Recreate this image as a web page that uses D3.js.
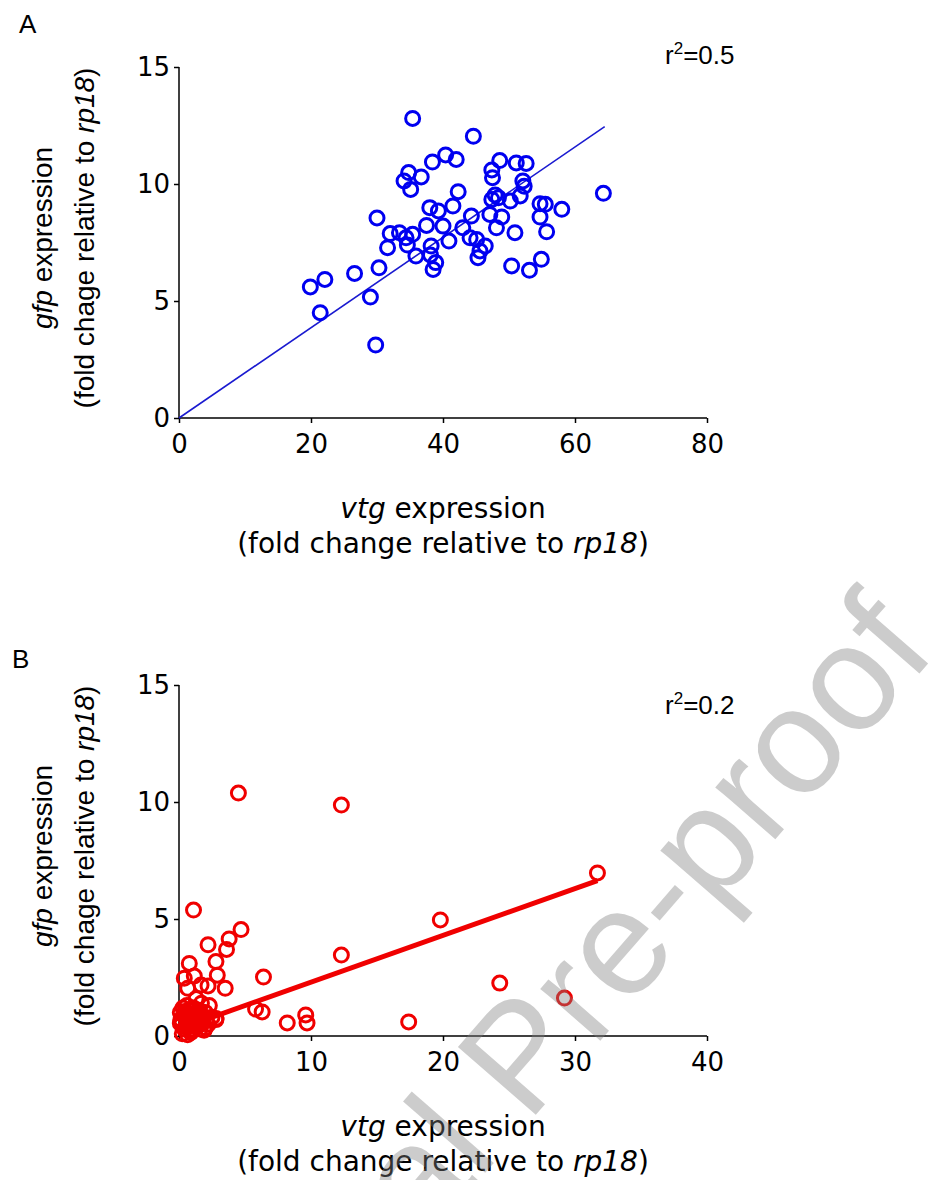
<!DOCTYPE html>
<html><head><meta charset="utf-8">
<script src="https://cdn.jsdelivr.net/npm/d3@7"></script>
<style>body{margin:0;background:#fff}svg{display:block}</style>
</head><body>
<script>
// Panel A data: vtg (x) vs gfp (y)
const vtgA = [35.4,38.4,40.4,42.0,34.8,34.1,36.7,35.1,42.3,38.0,39.3,41.5,30.0,32.0,33.4,34.4,35.4,37.5,40.0,31.6,34.6,38.2,40.9,35.9,38.1,38.9,38.5,30.3,26.6,22.1,19.9,29.0,21.4,29.8,
  44.6,48.6,51.1,52.6,47.4,47.5,52.1,52.3,47.9,48.4,47.4,50.2,51.7,54.7,55.5,58.0,64.3,54.7,47.1,48.9,48.1,44.3,43.0,44.1,45.1,46.4,45.6,45.3,50.9,55.7,54.9,50.4,53.1];
const gfpA = [12.8,10.94,11.24,11.05,10.49,10.13,10.3,9.77,9.67,8.99,8.85,9.06,8.55,7.88,7.92,7.7,7.85,8.23,8.2,7.28,7.39,7.35,7.56,6.92,6.97,6.64,6.35,6.42,6.18,5.92,5.6,5.17,4.5,3.12,
  12.04,11.0,10.9,10.88,10.6,10.27,10.13,9.9,9.53,9.41,9.34,9.27,9.49,9.16,9.13,8.92,9.6,8.59,8.7,8.59,8.13,8.63,8.13,7.7,7.63,7.35,7.14,6.85,7.92,7.96,6.78,6.5,6.31];
const fitA = {slope: 0.193, intercept: 0, xEnd: 64.5};

// Panel B data
const vtgB = [4.5,12.3,1.1,4.7,3.8,2.2,3.6,12.3,19.8,31.7,24.3,29.2,17.4,6.4,5.8,6.3,9.6,9.7,8.2,3.5,2.9,2.8,0.78,0.4,1.16,1.67,2.2,0.66,2.8,
  0.3,0.5,0.6,0.8,1.0,1.1,1.2,1.4,1.5,1.6,1.8,2.0,2.2,0.2,0.4,0.9,1.3,1.0,1.5,2.0,0.6,2.5,2.8,0.1,1.7,0.7,2.3,1.9,0.9,1.2,
  0.15,0.35,0.55,0.75,0.95,1.25,1.45,1.65,1.85,2.05,0.25,0.45,0.85,1.05,1.35,1.55,0.1,0.65,1.15];
const gfpB = [10.38,9.87,5.38,4.55,4.15,3.9,3.7,3.46,4.96,6.97,2.26,1.62,0.6,2.52,1.15,1.03,0.9,0.56,0.56,2.04,2.6,3.18,3.1,2.47,2.56,2.18,2.14,2.04,0.75,
  1.2,0.8,1.3,0.5,0.9,1.2,0.4,0.7,1.1,0.3,0.6,1.0,0.5,0.5,0.3,0.2,1.6,0.6,0.45,0.35,1.0,0.8,0.7,1.0,1.4,0.6,1.3,0.25,0.15,0.9,
  0.7,0.9,0.4,1.1,0.55,0.85,0.45,0.95,0.75,0.65,0.1,1.05,0.95,0.3,1.0,0.55,0.55,0.05,0.7];
const fitB = {slope: 0.2, intercept: 0.3, xEnd: 31.7};

const xTicksA = [0,20,40,60,80];
const xTicksB = [0,10,20,30,40];
const yTicks = [0,5,10,15];

const W = 936, H = 1180;
const svg = d3.select("body").append("svg").attr("width", W).attr("height", H);

function panel(cfg) {
  const x = d3.scaleLinear().domain(cfg.xDomain).range([179, 707]);
  const y = d3.scaleLinear().domain([0, 15]).range([cfg.y0, cfg.y0 - 351]);
  const g = svg.append("g");
  const xa = g.append("g").attr("transform", `translate(0,${cfg.y0})`)
    .call(d3.axisBottom(x).tickValues(cfg.xTicks).tickSize(5).tickPadding(12).tickFormat(d3.format("d")));
  const ya = g.append("g").attr("transform", `translate(179,0)`)
    .call(d3.axisLeft(y).tickValues(yTicks).tickSize(5).tickPadding(4).tickFormat(d3.format("d")));
  [xa, ya].forEach(a => {
    a.select(".domain").attr("stroke", "#000").attr("stroke-width", 1.5);
    a.selectAll(".tick line").attr("stroke", "#000").attr("stroke-width", 1.5);
    a.selectAll(".tick text").attr("font-family", "DejaVu Sans").attr("font-size", 26).attr("fill", "#000");
  });
  xa.select(".domain").attr("d", `M${x.range()[0]},0H${x.range()[1]}`);
  ya.select(".domain").attr("d", `M0,${y.range()[0]}V${y.range()[1]}`);

  // fit line
  g.append("line")
    .attr("x1", x(0)).attr("y1", y(cfg.fit.intercept))
    .attr("x2", x(cfg.fit.xEnd)).attr("y2", y(cfg.fit.intercept + cfg.fit.slope * cfg.fit.xEnd))
    .attr("stroke", cfg.lineColor).attr("stroke-width", cfg.lineWidth);

  g.append("g").selectAll("circle").data(cfg.xs.map((v, i) => [v, cfg.ys[i]])).join("circle")
    .attr("cx", d => x(d[0])).attr("cy", d => y(d[1])).attr("r", 7)
    .attr("fill", "none").attr("stroke", cfg.color).attr("stroke-width", 3);

  // panel letter
  g.append("text").attr("x", cfg.letterX).attr("y", cfg.letterY).text(cfg.letter)
    .attr("font-family", "Liberation Sans").attr("font-size", 26).attr("fill", "#000");

  // r2
  const r = g.append("text").attr("x", 665).attr("y", cfg.r2Y)
    .attr("font-family", "Liberation Sans").attr("font-size", 26).attr("fill", "#000");
  r.append("tspan").text("r");
  r.append("tspan").text("2").attr("font-size", 17).attr("dy", -10);
  r.append("tspan").text("=" + cfg.r2).attr("dy", 10);

  // x title
  const xt1 = g.append("text").attr("x", 443).attr("y", cfg.y0 + 100).attr("text-anchor", "middle")
    .attr("font-family", "DejaVu Sans").attr("font-size", 28).attr("fill", "#000");
  xt1.append("tspan").text("vtg").attr("font-style", "italic");
  xt1.append("tspan").text(" expression");
  const xt2 = g.append("text").attr("x", 443).attr("y", cfg.y0 + 135).attr("text-anchor", "middle")
    .attr("font-family", "DejaVu Sans").attr("font-size", 28).attr("fill", "#000");
  xt2.append("tspan").text("(fold change relative to ");
  xt2.append("tspan").text("rp18").attr("font-style", "italic");
  xt2.append("tspan").text(")");

  // y title
  const cy = cfg.y0 - 180;
  const yt1 = g.append("text").attr("transform", `translate(52,${cy}) rotate(-90)`).attr("text-anchor", "middle")
    .attr("font-family", "Liberation Sans").attr("font-size", 28).attr("fill", "#000");
  yt1.append("tspan").text("gfp").attr("font-style", "italic");
  yt1.append("tspan").text(" expression");
  const yt2 = g.append("text").attr("transform", `translate(94,${cy}) rotate(-90)`).attr("text-anchor", "middle")
    .attr("font-family", "Liberation Sans").attr("font-size", 28).attr("fill", "#000");
  yt2.append("tspan").text("(fold chage relative to ");
  yt2.append("tspan").text("rp18").attr("font-style", "italic");
  yt2.append("tspan").text(")");
}

panel({letter: "A", letterX: 19, letterY: 33, xDomain: [0, 80], xTicks: xTicksA, y0: 418,
  xs: vtgA, ys: gfpA, fit: fitA, color: "#0000f0", lineColor: "#1a1ad0", lineWidth: 1.6, r2: "0.5", r2Y: 64});
panel({letter: "B", letterX: 12, letterY: 668, xDomain: [0, 40], xTicks: xTicksB, y0: 1036,
  xs: vtgB, ys: gfpB, fit: fitB, color: "#f00000", lineColor: "#f00000", lineWidth: 5, r2: "0.2", r2Y: 714});

// watermark
svg.append("text").attr("transform", "translate(938,652) rotate(-49)")
  .attr("text-anchor", "end").attr("font-family", "Liberation Sans").attr("font-size", 150)
  .attr("fill", "#808080").attr("fill-opacity", 0.4).text("Journal Pre-proof");
</script>
</body></html>
